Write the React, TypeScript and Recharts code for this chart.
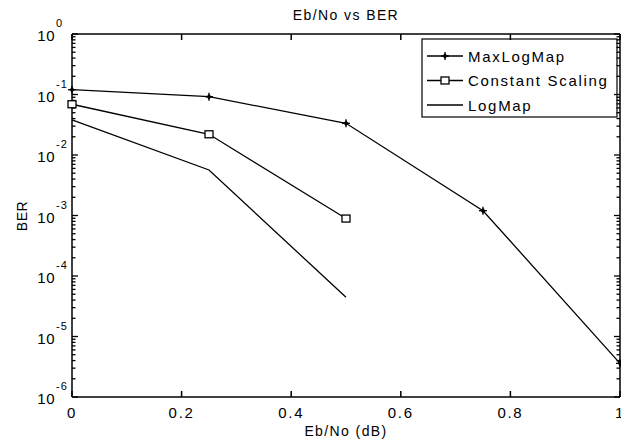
import React from 'react';
import { LineChart, Line, XAxis, YAxis, Customized, ReferenceLine } from 'recharts';

const ebNo = [0, 0.25, 0.5, 0.75, 1];
const maxLogMap = [0.12, 0.092, 0.0334, 0.0012, 3.6e-6];
const constantScaling = [0.069, 0.022, 0.00089];
const logMap = [0.038, 0.00565, 0.0000445];
const xTicks = [0, 0.2, 0.4, 0.6, 0.8, 1];
const yExponents = [-6, -5, -4, -3, -2, -1, 0];
const seriesNames = ['MaxLogMap', 'Constant Scaling', 'LogMap'];

const data = ebNo.map((x, i) => ({
  x,
  maxLogMap: maxLogMap[i],
  constantScaling: constantScaling[i] ?? null,
  logMap: logMap[i] ?? null,
}));

const yTicks: number[] = [];
yExponents.forEach((e) => {
  if (e === 0) {
    yTicks.push(1);
  } else {
    for (let m = 1; m <= 9; m++) yTicks.push(m * Math.pow(10, e));
  }
});

const FONT = '"Liberation Sans", Arial, sans-serif';

const isDecade = (v: number) => {
  const l = Math.log10(v);
  return Math.abs(l - Math.round(l)) < 1e-6;
};

const XTickBottom = (props: any) => {
  const { x, y, payload } = props;
  return (
    <text x={x} y={y + 21} textAnchor="middle" fontFamily={FONT} fontSize={15} letterSpacing={1.7} fill="#000">
      {String(payload.value)}
    </text>
  );
};

const YTickLeft = (props: any) => {
  const { x, y, payload } = props;
  const v = payload.value as number;
  if (!isDecade(v)) return <g />;
  const exp = Math.round(Math.log10(v));
  return (
    <g fontFamily={FONT} fill="#000">
      <text x={x - 17} y={y + 7} textAnchor="end" fontSize={15} letterSpacing={0.5}>10</text>
      <text x={x - 16} y={y - 7} textAnchor="start" fontSize={11} letterSpacing={1}>{String(exp)}</text>
    </g>
  );
};

// Inward tick marks at both ends of a reference line spanning the plot
const makeVTickShape = (len: number) => (p: any) => {
  const x = Number(p.x1);
  const ya = Math.min(Number(p.y1), Number(p.y2));
  const yb = Math.max(Number(p.y1), Number(p.y2));
  return (
    <g>
      <line x1={x} x2={x} y1={yb} y2={yb - len} stroke="#000" strokeWidth={1.5} />
      <line x1={x} x2={x} y1={ya} y2={ya + len} stroke="#000" strokeWidth={1.5} />
    </g>
  );
};

const makeHTickShape = (len: number) => (p: any) => {
  const y = Number(p.y1);
  const xa = Math.min(Number(p.x1), Number(p.x2));
  const xb = Math.max(Number(p.x1), Number(p.x2));
  return (
    <g>
      <line x1={xa} x2={xa + len} y1={y} y2={y} stroke="#000" strokeWidth={1.3} />
      <line x1={xb} x2={xb - len} y1={y} y2={y} stroke="#000" strokeWidth={1.3} />
    </g>
  );
};

const PlusDot = (props: any) => {
  const { cx, cy, index } = props;
  if (cx == null || cy == null) return <g key={index} />;
  return (
    <g key={index}>
      <line x1={cx - 4} x2={cx + 4} y1={cy} y2={cy} stroke="#000" strokeWidth={1.3} />
      <line x1={cx} x2={cx} y1={cy - 4} y2={cy + 4} stroke="#000" strokeWidth={1.3} />
      <path d={`M${cx},${cy - 3} L${cx + 2.5},${cy} L${cx},${cy + 3} L${cx - 2.5},${cy} Z`} fill="#000" />
    </g>
  );
};

const SquareDot = (props: any) => {
  const { cx, cy, index } = props;
  if (cx == null || cy == null) return <g key={index} />;
  return <rect key={index} x={cx - 4} y={cy - 3.5} width={8} height={7} fill="#fff" stroke="#000" strokeWidth={1.3} />;
};

const Overlay = () => {
  const rowY = [56, 80.5, 105];
  return (
    <g fontFamily={FONT} fill="#000">
      <text x={346} y={20} textAnchor="middle" fontSize={14} letterSpacing={1.4}>Eb/No vs BER</text>
      <text x={346} y={436} textAnchor="middle" fontSize={14} letterSpacing={1.4}>Eb/No (dB)</text>
      <text x={27} y={216} textAnchor="middle" fontSize={14} letterSpacing={0.5} transform="rotate(-90 27 216)">BER</text>
      <rect x={422} y={39} width={195} height={78} fill="#fff" stroke="#000" strokeWidth={1.2} />
      {seriesNames.map((name, i) => (
        <g key={name}>
          <line x1={427} x2={463} y1={rowY[i]} y2={rowY[i]} stroke="#000" strokeWidth={1.3} />
          {i === 0 && PlusDot({ cx: 445, cy: rowY[i], index: 'l0' })}
          {i === 1 && SquareDot({ cx: 445, cy: rowY[i], index: 'l1' })}
          <text x={468} y={rowY[i] + 5.5} fontSize={15} letterSpacing={1.7}>{name}</text>
        </g>
      ))}
    </g>
  );
};

export default function App() {
  return (
    <div style={{ position: 'absolute', left: 0, top: 0, width: 621, height: 448, background: '#fff' }}>
      <LineChart width={621} height={448} data={data} margin={{ top: 33, right: 0, bottom: 0, left: 0 }}>
        <XAxis
          dataKey="x"
          type="number"
          domain={[0, 1]}
          ticks={xTicks}
          interval={0}
          height={51}
          tickSize={0}
          tickMargin={0}
          axisLine={{ stroke: '#000', strokeWidth: 1.5 }}
          tick={<XTickBottom />}
        />
        <XAxis
          xAxisId="top"
          dataKey="x"
          orientation="top"
          type="number"
          domain={[0, 1]}
          height={1}
          tickSize={0}
          tick={false}
          axisLine={{ stroke: '#000', strokeWidth: 1.5 }}
        />
        <YAxis
          type="number"
          scale="log"
          domain={[1e-6, 1]}
          allowDataOverflow
          ticks={yTicks}
          interval={0}
          width={72}
          tickSize={0}
          tickMargin={0}
          axisLine={{ stroke: '#000', strokeWidth: 1.5 }}
          tick={<YTickLeft />}
        />
        <YAxis
          yAxisId="right"
          orientation="right"
          type="number"
          scale="log"
          domain={[1e-6, 1]}
          allowDataOverflow
          width={1}
          tickSize={0}
          tick={false}
          axisLine={{ stroke: '#000', strokeWidth: 1.5 }}
        />
        <Line
          xAxisId="top"
          yAxisId="right"
          dataKey="maxLogMap"
          stroke="none"
          dot={false}
          activeDot={false}
          legendType="none"
          isAnimationActive={false}
        />
        {xTicks.map((t) => (
          <ReferenceLine key={`xt${t}`} x={t} shape={makeVTickShape(6)} ifOverflow="visible" />
        ))}
        {yTicks.map((t) => (
          <ReferenceLine key={`yt${t}`} y={t} shape={makeHTickShape(isDecade(t) ? 6 : 3.5)} ifOverflow="visible" />
        ))}
        <Line dataKey="maxLogMap" stroke="#000" strokeWidth={1.3} dot={<PlusDot />} isAnimationActive={false} />
        <Line dataKey="constantScaling" stroke="#000" strokeWidth={1.3} dot={<SquareDot />} isAnimationActive={false} />
        <Line dataKey="logMap" stroke="#000" strokeWidth={1.3} dot={false} isAnimationActive={false} />
        <Customized component={<Overlay />} />
      </LineChart>
    </div>
  );
}
